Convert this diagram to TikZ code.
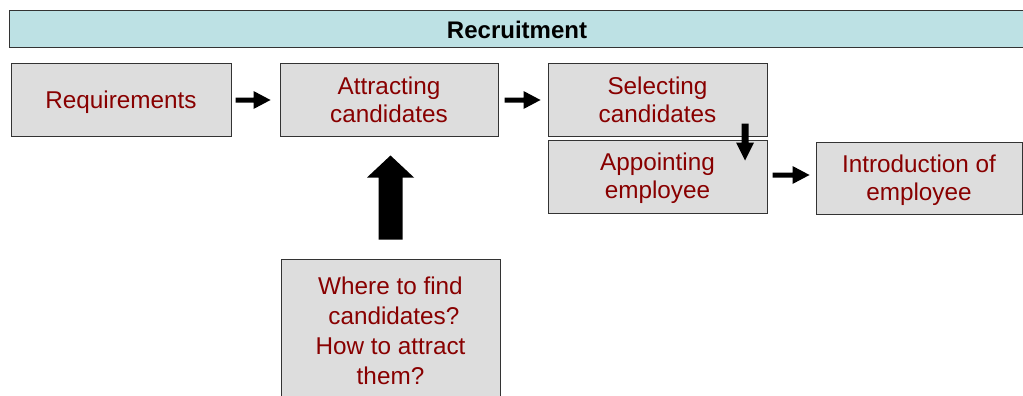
\documentclass[tikz,border=0pt]{standalone}
\usepackage{fontspec}
\setmainfont{Liberation Sans}
\usetikzlibrary{calc}
\definecolor{boxfill}{HTML}{DDDDDD}
\definecolor{headfill}{HTML}{BDE1E4}
\definecolor{txtred}{HTML}{880000}
\definecolor{edge}{HTML}{333333}
% horizontal block arrow: #1 start, #2 end, #3 half shaft, #4 head length, #5 half head
\newcommand\blkH[5]{\fill[black] let \p1=(#1), \p2=(#2) in
  (\x1,\y1+#3pt) -- (\x2-#4pt,\y1+#3pt) -- (\x2-#4pt,\y1+#5pt) -- (\x2,\y1)
  -- (\x2-#4pt,\y1-#5pt) -- (\x2-#4pt,\y1-#3pt) -- (\x1,\y1-#3pt) -- cycle;}
% vertical block arrow (direction given by sign #6 = 1 up, -1 down)
\newcommand\blkV[6]{\fill[black] let \p1=(#1), \p2=(#2) in
  (\x1-#3pt,\y1) -- (\x1-#3pt,\y2-#6*#4pt) -- (\x1-#5pt,\y2-#6*#4pt) -- (\x1,\y2)
  -- (\x1+#5pt,\y2-#6*#4pt) -- (\x1+#3pt,\y2-#6*#4pt) -- (\x1+#3pt,\y1) -- cycle;}
\begin{document}
\begin{tikzpicture}[x=1pt,y=1pt,
  box/.style={draw=edge, line width=1pt, fill=boxfill, rectangle, inner sep=0pt},
  txt/.style={text=txtred, align=center, inner sep=0pt, font=\fontsize{24.3}{28}\selectfont}
]
\useasboundingbox (0,0) rectangle (1023,-396);
\clip (0,0) rectangle (1023,-396);
% header
\node[draw=edge, line width=1pt, fill=headfill, inner sep=0pt, minimum width=1016, minimum height=37,
  font=\bfseries\fontsize{24}{28}\selectfont] (head) at (517,-29.5) {Recruitment};
% boxes
\node[box, minimum width=220, minimum height=72] (req) at (121,-100) {};
\node[box, minimum width=218, minimum height=72] (att) at (389,-100) {};
\node[box, minimum width=219, minimum height=72] (sel) at (657.5,-100) {};
\node[box, minimum width=219, minimum height=73] (app) at (657.5,-176.5) {};
\node[box, minimum width=206, minimum height=72] (intro) at (919,-178) {};
\node[box, minimum width=219, minimum height=141] (where) at (390.5,-329.5) {};
% texts
\node[txt] (req-t) at ([yshift=-2]req.center) {Requirements};
\node[txt] (att-t) at ([yshift=0]att.center) {Attracting\\candidates};
\node[txt] (sel-t) at ([yshift=0]sel.center) {Selecting\\candidates};
\node[txt] (app-t) at ([yshift=-2]app.center) {Appointing\\employee};
\node[txt] (intro-t) at ([yshift=-2]intro.center) {Introduction of\\employee};
\node[txt, font=\fontsize{24.3}{30}\selectfont] (where-t) at ([yshift=-1]where.center)
  {Where to find\\\hspace*{0.28em}candidates?\\How to attract\\them?};
% arrows
\blkH{[xshift=4]req.east}{[xshift=-9]att.west}{2.5}{17}{9}
\blkH{[xshift=6]att.east}{[xshift=-7]sel.west}{2.5}{17}{9}
\blkH{[shift={(5,1.5)}]app.east}{[shift={(-6,1.5)}]intro.west}{2.5}{17}{9}
\blkV{[shift={(-22.5,13)}]sel.south east}{[shift={(-22.5,-21)}]app.north east}{3.5}{18}{9}{-1}
\blkV{[yshift=19]where.north}{[yshift=-19]att.south}{12}{22}{23.5}{1}
\end{tikzpicture}
\end{document}
